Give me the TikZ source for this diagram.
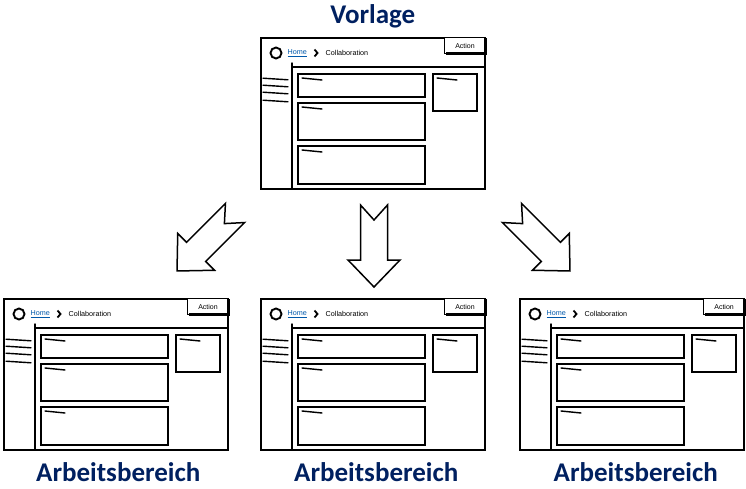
\documentclass[tikz,border=0pt]{standalone}
\usepackage{fontspec}
\newfontfamily\calibri{Carlito}
\setsansfont{Liberation Sans}
\usetikzlibrary{positioning}
\definecolor{titleBlue}{RGB}{0,32,96}
\definecolor{linkBlue}{RGB}{0,88,170}

\tikzset{
  mockup/.pic={
    \node[wireframe] (-frame) at (0,0) {};
    % header bar
    \node[actionbox] (-action) at (184,0) {Action};
    \draw[line width=2.6pt] (225.5,-1) -- (225.5,-16.5) -- (186,-16.5);
    \draw[line width=1.9pt] (16,-16) circle (5.5);
    \node[crumb, text=linkBlue] (-home) at (27.5,-16) {\underline{Home}};
    \draw[line width=1.8pt] (54.5,-12.5) -- (57.5,-16) -- (54.5,-19.5);
    \node[crumb] (-crumb) at (65.5,-16) {Collaboration};
    \draw[sketch] (32,-30) -- (224,-30);
    \draw[sketch] (32,-26) -- (32,-151);
    % side menu
    \foreach \y in {42,49,56,64}
      \draw[sketch] (3,-\y+0.8) -- (28,-\y-0.8);
    % content panels
    \foreach \a/\b/\c/\d in {38/37/165/60, 38/66/165/103, 38/109/165/147, 173/37/217/74}{
      \draw[panel] (\a,-\b) rectangle (\c,-\d);
      \draw[sketch] (\a+4,-\b-4) -- (\a+24,-\b-6);
    }
  },
  blockarrow/.pic={
    \draw[hollow] (0,13.5) -- (55,13.5) -- (55,26) -- (82,0) -- (55,-26) -- (55,-13.5) -- (0,-13.5) -- (15,0) -- cycle;
  }
}

\begin{document}
\begin{tikzpicture}[x=1pt, y=1pt,
    wireframe/.style={draw, line width=1.6pt, anchor=north west, minimum width=224pt, minimum height=151pt, inner sep=0pt},
    actionbox/.style={draw, line width=1.1pt, fill=white, anchor=north west, minimum width=41pt, minimum height=16pt, inner sep=0pt, font=\sffamily\fontsize{7}{8}\selectfont},
    crumb/.style={anchor=west, inner sep=0pt, font=\sffamily\fontsize{7.2}{8}\selectfont},
    sketch/.style={line width=1.4pt, line cap=round},
    panel/.style={draw, line width=2pt},
    hollow/.style={draw, line width=1.5pt, fill=white, line join=miter},
    heading/.style={font=\calibri\bfseries\fontsize{27}{31}\selectfont, text=titleBlue, inner sep=0pt}
  ]
  \useasboundingbox (0,0) rectangle (746,-489);
  \pic (tmpl) at (260,-37) {mockup};
  \pic (wsA) at (3,-298) {mockup};
  \pic (wsB) at (260,-298) {mockup};
  \pic (wsC) at (519,-298) {mockup};
  \node[heading, above=9pt of tmpl-frame] (vorlage) {Vorlage};
  \node[heading, below=12pt of wsA-frame, xshift=2.5pt] (arbA) {Arbeitsbereich};
  \node[heading, below=12pt of wsB-frame, xshift=3.5pt] (arbB) {Arbeitsbereich};
  \node[heading, below=12pt of wsC-frame, xshift=4pt] (arbC) {Arbeitsbereich};
  \pic[rotate=-135] (arrA) at (235,-213) {blockarrow};
  \pic[rotate=-90] (arrB) at (374,-205) {blockarrow};
  \pic[rotate=-45] (arrC) at (512,-213) {blockarrow};
\end{tikzpicture}
\end{document}
